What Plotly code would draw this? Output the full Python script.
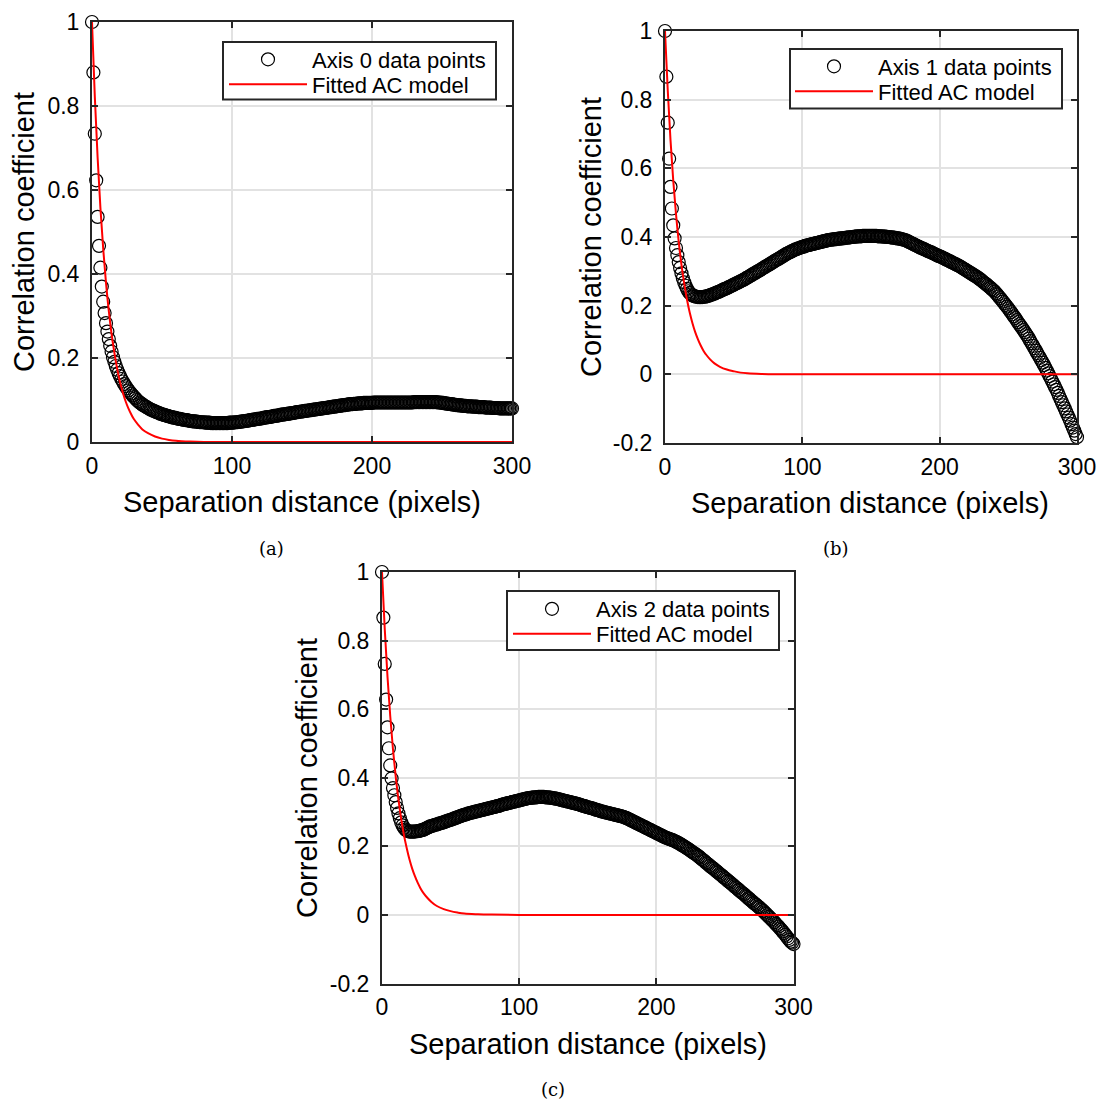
import plotly.graph_objects as go

W = H = 1099

# ---------------- data ----------------
lags = list(range(0, 301))

axis0_points = [
    1.000, 0.880, 0.734, 0.623, 0.536, 0.467, 0.415, 0.370, 0.334, 0.307,
    0.283, 0.263, 0.245, 0.229, 0.215, 0.202, 0.191, 0.181, 0.172, 0.164,
    0.157, 0.150, 0.144, 0.138, 0.133, 0.128, 0.123, 0.119, 0.115, 0.111,
    0.107, 0.104, 0.100, 0.097, 0.094, 0.092, 0.089, 0.087, 0.085, 0.083,
    0.081, 0.079, 0.077, 0.076, 0.074, 0.073, 0.071, 0.070, 0.069, 0.067,
    0.066, 0.065, 0.064, 0.063, 0.062, 0.061, 0.060, 0.059, 0.058, 0.058,
    0.057, 0.056, 0.055, 0.055, 0.054, 0.053, 0.053, 0.052, 0.052, 0.051,
    0.050, 0.050, 0.049, 0.049, 0.049, 0.048, 0.048, 0.047, 0.047, 0.047,
    0.047, 0.046, 0.046, 0.046, 0.046, 0.045, 0.045, 0.045, 0.045, 0.045,
    0.045, 0.045, 0.045, 0.045, 0.045, 0.045, 0.045, 0.045, 0.046, 0.046,
    0.046, 0.046, 0.047, 0.047, 0.047, 0.048, 0.048, 0.049, 0.049, 0.050,
    0.050, 0.051, 0.051, 0.052, 0.053, 0.053, 0.054, 0.054, 0.055, 0.055,
    0.056, 0.056, 0.057, 0.058, 0.058, 0.059, 0.059, 0.060, 0.060, 0.061,
    0.062, 0.062, 0.063, 0.063, 0.064, 0.065, 0.065, 0.066, 0.066, 0.067,
    0.067, 0.068, 0.068, 0.069, 0.069, 0.070, 0.071, 0.071, 0.072, 0.072,
    0.073, 0.073, 0.074, 0.074, 0.075, 0.075, 0.076, 0.076, 0.077, 0.077,
    0.078, 0.078, 0.079, 0.079, 0.080, 0.080, 0.081, 0.081, 0.082, 0.082,
    0.083, 0.083, 0.084, 0.084, 0.085, 0.085, 0.086, 0.086, 0.087, 0.087,
    0.088, 0.088, 0.089, 0.089, 0.090, 0.090, 0.090, 0.091, 0.091, 0.091,
    0.092, 0.092, 0.092, 0.092, 0.093, 0.093, 0.093, 0.093, 0.093, 0.093,
    0.093, 0.094, 0.094, 0.094, 0.094, 0.094, 0.094, 0.094, 0.094, 0.094,
    0.094, 0.094, 0.094, 0.094, 0.094, 0.094, 0.094, 0.094, 0.094, 0.094,
    0.094, 0.094, 0.094, 0.094, 0.094, 0.094, 0.094, 0.094, 0.094, 0.094,
    0.095, 0.095, 0.095, 0.095, 0.095, 0.095, 0.095, 0.095, 0.095, 0.095,
    0.095, 0.095, 0.095, 0.095, 0.095, 0.095, 0.095, 0.094, 0.094, 0.094,
    0.093, 0.093, 0.092, 0.092, 0.091, 0.091, 0.090, 0.090, 0.089, 0.089,
    0.088, 0.088, 0.087, 0.087, 0.087, 0.086, 0.086, 0.086, 0.085, 0.085,
    0.085, 0.085, 0.084, 0.084, 0.084, 0.084, 0.083, 0.083, 0.083, 0.083,
    0.083, 0.082, 0.082, 0.082, 0.082, 0.082, 0.081, 0.081, 0.081, 0.081,
    0.081, 0.080, 0.080, 0.080, 0.080, 0.080, 0.080, 0.080, 0.080, 0.080,
    0.080,
]

axis1_points = [
    1.000, 0.867, 0.733, 0.628, 0.546, 0.483, 0.434, 0.396, 0.368, 0.347,
    0.327, 0.310, 0.294, 0.280, 0.268, 0.258, 0.249, 0.242, 0.237, 0.233,
    0.230, 0.228, 0.227, 0.226, 0.225, 0.225, 0.225, 0.225, 0.226, 0.226,
    0.227, 0.228, 0.229, 0.231, 0.232, 0.234, 0.235, 0.237, 0.239, 0.240,
    0.242, 0.244, 0.246, 0.248, 0.249, 0.251, 0.253, 0.255, 0.257, 0.259,
    0.261, 0.263, 0.265, 0.267, 0.269, 0.271, 0.273, 0.275, 0.277, 0.280,
    0.282, 0.284, 0.287, 0.289, 0.292, 0.294, 0.296, 0.299, 0.301, 0.303,
    0.306, 0.308, 0.311, 0.313, 0.316, 0.318, 0.320, 0.323, 0.325, 0.328,
    0.330, 0.333, 0.335, 0.337, 0.340, 0.342, 0.345, 0.347, 0.350, 0.352,
    0.354, 0.356, 0.358, 0.360, 0.362, 0.364, 0.365, 0.367, 0.368, 0.370,
    0.371, 0.372, 0.374, 0.375, 0.376, 0.377, 0.378, 0.379, 0.380, 0.381,
    0.382, 0.383, 0.384, 0.385, 0.386, 0.387, 0.388, 0.389, 0.390, 0.391,
    0.392, 0.392, 0.393, 0.393, 0.394, 0.394, 0.395, 0.395, 0.396, 0.396,
    0.397, 0.397, 0.398, 0.398, 0.399, 0.399, 0.400, 0.400, 0.401, 0.401,
    0.402, 0.402, 0.402, 0.402, 0.403, 0.403, 0.403, 0.403, 0.403, 0.403,
    0.403, 0.403, 0.403, 0.403, 0.403, 0.402, 0.402, 0.402, 0.402, 0.401,
    0.401, 0.401, 0.400, 0.400, 0.399, 0.399, 0.398, 0.398, 0.397, 0.396,
    0.396, 0.395, 0.394, 0.393, 0.392, 0.391, 0.389, 0.387, 0.385, 0.383,
    0.381, 0.379, 0.377, 0.375, 0.373, 0.371, 0.369, 0.367, 0.366, 0.364,
    0.362, 0.360, 0.358, 0.357, 0.355, 0.353, 0.351, 0.349, 0.347, 0.345,
    0.344, 0.342, 0.340, 0.338, 0.336, 0.334, 0.332, 0.330, 0.328, 0.326,
    0.324, 0.322, 0.320, 0.318, 0.316, 0.314, 0.311, 0.309, 0.306, 0.304,
    0.301, 0.299, 0.296, 0.294, 0.291, 0.289, 0.286, 0.284, 0.281, 0.278,
    0.275, 0.272, 0.268, 0.265, 0.262, 0.259, 0.255, 0.252, 0.248, 0.245,
    0.241, 0.236, 0.232, 0.227, 0.222, 0.217, 0.212, 0.207, 0.202, 0.197,
    0.192, 0.186, 0.181, 0.175, 0.169, 0.164, 0.158, 0.152, 0.146, 0.141,
    0.135, 0.129, 0.123, 0.117, 0.111, 0.104, 0.097, 0.090, 0.083, 0.076,
    0.069, 0.062, 0.055, 0.048, 0.041, 0.034, 0.027, 0.019, 0.011, 0.003,
    -0.005, -0.013, -0.021, -0.029, -0.037, -0.045, -0.054, -0.063, -0.072, -0.081,
    -0.090, -0.099, -0.108, -0.117, -0.126, -0.135, -0.145, -0.155, -0.164, -0.174,
    -0.183,
]

axis2_points = [
    1.000, 0.867, 0.732, 0.628, 0.547, 0.486, 0.436, 0.398, 0.370, 0.349,
    0.329, 0.312, 0.296, 0.282, 0.270, 0.261, 0.254, 0.249, 0.246, 0.244,
    0.243, 0.243, 0.243, 0.243, 0.243, 0.244, 0.244, 0.245, 0.246, 0.247,
    0.248, 0.250, 0.252, 0.254, 0.256, 0.258, 0.259, 0.260, 0.262, 0.263,
    0.264, 0.265, 0.267, 0.268, 0.269, 0.270, 0.272, 0.273, 0.275, 0.276,
    0.277, 0.279, 0.280, 0.282, 0.283, 0.285, 0.286, 0.288, 0.289, 0.291,
    0.292, 0.293, 0.294, 0.296, 0.297, 0.298, 0.299, 0.300, 0.301, 0.302,
    0.303, 0.304, 0.305, 0.306, 0.307, 0.308, 0.309, 0.310, 0.311, 0.312,
    0.313, 0.314, 0.315, 0.316, 0.317, 0.318, 0.319, 0.321, 0.322, 0.323,
    0.324, 0.325, 0.326, 0.327, 0.328, 0.329, 0.330, 0.331, 0.332, 0.333,
    0.334, 0.335, 0.336, 0.337, 0.338, 0.339, 0.340, 0.341, 0.341, 0.342,
    0.342, 0.343, 0.343, 0.343, 0.344, 0.344, 0.344, 0.344, 0.344, 0.343,
    0.343, 0.343, 0.342, 0.342, 0.341, 0.340, 0.340, 0.339, 0.338, 0.337,
    0.336, 0.335, 0.334, 0.333, 0.332, 0.331, 0.330, 0.329, 0.328, 0.327,
    0.326, 0.325, 0.324, 0.323, 0.322, 0.320, 0.319, 0.318, 0.317, 0.315,
    0.314, 0.313, 0.312, 0.311, 0.310, 0.308, 0.307, 0.306, 0.305, 0.303,
    0.302, 0.301, 0.300, 0.299, 0.298, 0.297, 0.296, 0.295, 0.294, 0.293,
    0.292, 0.291, 0.290, 0.289, 0.288, 0.287, 0.286, 0.284, 0.283, 0.281,
    0.279, 0.277, 0.275, 0.273, 0.271, 0.269, 0.267, 0.265, 0.263, 0.261,
    0.259, 0.257, 0.255, 0.253, 0.251, 0.249, 0.247, 0.245, 0.243, 0.241,
    0.239, 0.237, 0.235, 0.233, 0.231, 0.229, 0.227, 0.225, 0.224, 0.222,
    0.221, 0.219, 0.218, 0.216, 0.214, 0.212, 0.210, 0.208, 0.205, 0.203,
    0.200, 0.198, 0.195, 0.193, 0.190, 0.187, 0.184, 0.181, 0.179, 0.176,
    0.173, 0.170, 0.167, 0.163, 0.160, 0.157, 0.153, 0.150, 0.147, 0.143,
    0.140, 0.137, 0.134, 0.130, 0.127, 0.124, 0.120, 0.117, 0.114, 0.110,
    0.107, 0.104, 0.100, 0.097, 0.094, 0.090, 0.087, 0.083, 0.080, 0.077,
    0.073, 0.070, 0.066, 0.063, 0.060, 0.056, 0.053, 0.049, 0.046, 0.042,
    0.039, 0.035, 0.032, 0.029, 0.025, 0.022, 0.018, 0.015, 0.011, 0.007,
    0.003, -0.001, -0.005, -0.009, -0.013, -0.017, -0.021, -0.026, -0.030, -0.034,
    -0.039, -0.043, -0.048, -0.053, -0.058, -0.063, -0.068, -0.073, -0.078, -0.081,
    -0.085,
]

model_lags = [0, 2, 4, 6, 8, 10, 12, 14, 16, 18, 20, 22, 24, 26, 28, 30,
              33, 36, 40, 45, 50, 55, 60, 70, 80, 100, 150, 200, 250, 300]
model0 = [1.000, 0.823, 0.678, 0.558, 0.460, 0.379, 0.312, 0.257, 0.212, 0.174,
          0.143, 0.118, 0.097, 0.080, 0.066, 0.054, 0.041, 0.030, 0.021, 0.013,
          0.008, 0.005, 0.003, 0.001, 0.000, 0.000, 0.000, 0.000, 0.000, 0.000]
model1 = [1.000, 0.827, 0.683, 0.565, 0.467, 0.386, 0.319, 0.264, 0.218, 0.180,
          0.149, 0.123, 0.102, 0.084, 0.069, 0.057, 0.043, 0.032, 0.022, 0.014,
          0.009, 0.005, 0.003, 0.001, 0.000, 0.000, 0.000, 0.000, 0.000, 0.000]
model2 = [1.000, 0.834, 0.695, 0.580, 0.483, 0.403, 0.336, 0.280, 0.233, 0.195,
          0.162, 0.135, 0.113, 0.094, 0.078, 0.065, 0.050, 0.038, 0.026, 0.017,
          0.011, 0.007, 0.004, 0.002, 0.001, 0.000, 0.000, 0.000, 0.000, 0.000]

x_ticks = [0, 100, 200, 300]
y_ticks_a = [0, 0.2, 0.4, 0.6, 0.8, 1]
y_ticktext_a = ["0", "0.2", "0.4", "0.6", "0.8", "1"]
y_ticks_bc = [-0.2, 0, 0.2, 0.4, 0.6, 0.8, 1]
y_ticktext_bc = ["-0.2", "0", "0.2", "0.4", "0.6", "0.8", "1"]

point_names = ["Axis 0 data points", "Axis 1 data points", "Axis 2 data points"]
model_name = "Fitted AC model"
captions = ["(a)", "(b)", "(c)"]
x_title = "Separation distance (pixels)"
y_title = "Correlation coefficient"

SANS = "Liberation Sans, Arial, sans-serif"
DARK = "#262626"

# ---------------- layout helpers (screen pixel -> paper) ----------------
def fx(px):
    return px / W

def fy(py):
    return 1 - py / H

# plot boxes in screen pixels: (left, top, right, bottom)
boxes = [(92, 22, 512, 442), (665, 31, 1077, 443), (382, 572, 793.5, 983.5)]
# legend boxes: (left, top, right, bottom), text start x, row1 y, row2 y
legend_boxes = [(223, 42, 496, 99.5), (790, 49, 1062, 108.5), (507, 591, 779, 650)]
legend_text_x = [312, 878, 596]
legend_rows = [(59.5, 84.5), (66.5, 91.5), (609, 634)]

fig = go.Figure()

series = [axis0_points, axis1_points, axis2_points]
models = [model0, model1, model2]

for i in range(3):
    xa = "x" if i == 0 else f"x{i+1}"
    ya = "y" if i == 0 else f"y{i+1}"
    fig.add_trace(go.Scatter(
        x=lags, y=series[i], mode="markers", name=point_names[i],
        marker=dict(symbol="circle-open", size=13, color="black",
                    line=dict(width=1.2, color="black")),
        cliponaxis=False, xaxis=xa, yaxis=ya, legend=f"legend{2*i+1}"))
    fig.add_trace(go.Scatter(
        x=model_lags, y=models[i], mode="lines", name=model_name,
        line=dict(color="#ff0000", width=2, shape="spline"),
        xaxis=xa, yaxis=ya, legend=f"legend{2*i+2}"))

axis_common = dict(
    showline=True, linecolor=DARK, linewidth=2, mirror="allticks",
    ticks="inside", ticklen=6, tickwidth=2, tickcolor=DARK,
    showgrid=True, gridcolor="#e2e2e2", gridwidth=2, zeroline=False,
    automargin=False,
    tickfont=dict(family=SANS, size=23, color="black"),
)

layout = dict(
    width=W, height=H, margin=dict(l=0, r=0, t=0, b=0, autoexpand=False),
    paper_bgcolor="white", plot_bgcolor="white", showlegend=True,
    font=dict(family=SANS, color="black"),
)

for i, (l, t, r, b) in enumerate(boxes):
    sx = "" if i == 0 else str(i + 1)
    yt = y_ticks_a if i == 0 else y_ticks_bc
    ytt = y_ticktext_a if i == 0 else y_ticktext_bc
    yr = [0, 1] if i == 0 else [-0.2, 1]
    layout["xaxis" + sx] = dict(axis_common, domain=[fx(l), fx(r)], range=[0, 300],
                                tickvals=x_ticks, anchor="y" + sx, ticklabelstandoff=2)
    layout["yaxis" + sx] = dict(axis_common, domain=[fy(b), fy(t)], range=yr,
                                tickvals=yt, ticktext=ytt, anchor="x" + sx,
                                ticklabelstandoff=6)

# one single-entry legend per legend row, so rows sit where the reference has them
for i in range(3):
    for j in range(2):
        key = "legend" if (2 * i + j) == 0 else f"legend{2*i+j+1}"
        layout[key] = dict(
            x=fx(legend_text_x[i] - 88), y=fy(legend_rows[i][j]),
            xanchor="left", yanchor="middle", xref="paper", yref="paper",
            bgcolor="rgba(0,0,0,0)", borderwidth=0,
            font=dict(family=SANS, size=22, color="black"),
            itemwidth=78, tracegroupgap=0,
        )

shapes = []
for (l, t, r, b) in legend_boxes:
    shapes.append(dict(type="rect", xref="paper", yref="paper",
                       x0=fx(l), x1=fx(r), y0=fy(b), y1=fy(t),
                       fillcolor="white", line=dict(color=DARK, width=2),
                       layer="above"))
layout["shapes"] = shapes

fig.update_layout(**layout)

annotations = []
xt_pos = [(302, 502), (870, 503), (588, 1044)]
yt_pos = [(24, 232), (591, 237), (307, 778)]
cap_pos = [(271, 548), (836, 548), (553, 1089)]
for i in range(3):
    annotations.append(dict(text=x_title, x=fx(xt_pos[i][0]), y=fy(xt_pos[i][1]),
                            xref="paper", yref="paper", showarrow=False,
                            xanchor="center", yanchor="middle",
                            font=dict(size=29, family=SANS, color="black")))
    annotations.append(dict(text=y_title, x=fx(yt_pos[i][0]), y=fy(yt_pos[i][1]),
                            xref="paper", yref="paper", showarrow=False, textangle=-90,
                            xanchor="center", yanchor="middle",
                            font=dict(size=29, family=SANS, color="black")))
    annotations.append(dict(text=captions[i], x=fx(cap_pos[i][0]), y=fy(cap_pos[i][1]),
                            xref="paper", yref="paper", showarrow=False,
                            xanchor="center", yanchor="middle",
                            font=dict(size=18, family="DejaVu Serif, Liberation Serif, serif",
                                      color="black")))
fig.update_layout(annotations=annotations)

# remove the default page margin and scrollbars so the figure fills the window exactly
page_fix = ("document.body.style.margin='0';"
            "document.body.style.overflow='hidden';"
            "document.documentElement.style.overflow='hidden';")
fig.write_html("out.html", post_script=page_fix,
               config={"displayModeBar": False, "staticPlot": True})
